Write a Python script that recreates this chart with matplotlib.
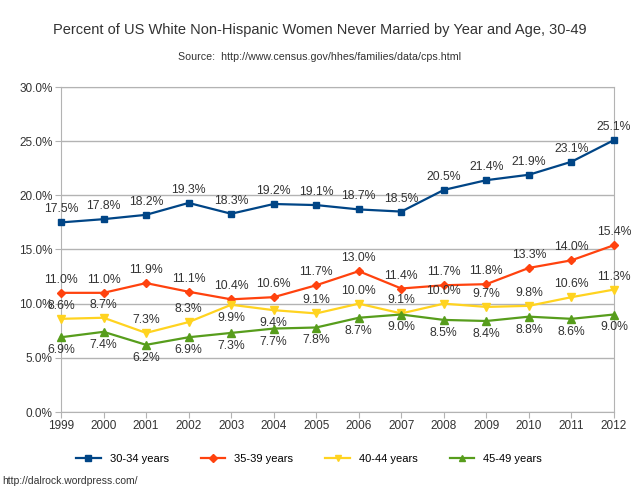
import matplotlib
matplotlib.use("Agg")
import matplotlib.pyplot as plt

years = [1999, 2000, 2001, 2002, 2003, 2004, 2005, 2006, 2007, 2008, 2009, 2010, 2011, 2012]
s30_34 = [17.5, 17.8, 18.2, 19.3, 18.3, 19.2, 19.1, 18.7, 18.5, 20.5, 21.4, 21.9, 23.1, 25.1]
s35_39 = [11.0, 11.0, 11.9, 11.1, 10.4, 10.6, 11.7, 13.0, 11.4, 11.7, 11.8, 13.3, 14.0, 15.4]
s40_44 = [8.6, 8.7, 7.3, 8.3, 9.9, 9.4, 9.1, 10.0, 9.1, 10.0, 9.7, 9.8, 10.6, 11.3]
s45_49 = [6.9, 7.4, 6.2, 6.9, 7.3, 7.7, 7.8, 8.7, 9.0, 8.5, 8.4, 8.8, 8.6, 9.0]
series_names = ["30-34 years", "35-39 years", "40-44 years", "45-49 years"]
yticks = [0, 5, 10, 15, 20, 25, 30]

plt.rcParams['font.family'] = ['Liberation Sans', 'DejaVu Sans']

fig = plt.figure(figsize=(6.4, 4.94), dpi=100)
ax = fig.add_axes([61/640, 82/494, 553/640, 325/494])

styles = [
    dict(color='#004586', marker='s', ms=5),
    dict(color='#ff420e', marker='D', ms=4.5),
    dict(color='#ffd320', marker='v', ms=6),
    dict(color='#579d1c', marker='^', ms=6),
]
data = [s30_34, s35_39, s40_44, s45_49]
# label placement: +1 above, -1 below
place40 = [1, 1, 1, 1, -1, -1, 1, 1, 1, 1, 1, 1, 1, 1]
places = [[1]*14, [1]*14, place40, [-1]*14]

for vals, st, name, pl in zip(data, styles, series_names, places):
    ax.plot(years, vals, color=st['color'], marker=st['marker'], ms=st['ms'],
            lw=1.6, label=name, zorder=3, clip_on=False)
    for x, v, p in zip(years, vals, pl):
        ax.annotate(f"{v:.1f}%", (x, v), xytext=(0, 5*p), textcoords='offset points',
                    ha='center', va='bottom' if p > 0 else 'top', fontsize=8.8,
                    color='#333333', zorder=4)

ax.set_xlim(1999, 2012)
ax.set_ylim(0, 30)
ax.set_yticks(yticks)
ax.set_yticklabels([f"{t:.1f}%" for t in yticks])
ax.set_xticks(years)
ax.set_xticklabels([str(y) for y in years])
ax.tick_params(axis='both', labelsize=8.5, colors='#333333', length=4, color='#b3b3b3',
               direction='out', pad=2)
ax.grid(axis='y', color='#b3b3b3', lw=1)
ax.set_axisbelow(True)
for side in ['left', 'bottom', 'right', 'top']:
    ax.spines[side].set_color('#b3b3b3')

fig.text(0.5, 1 - 30/494, "Percent of US White Non-Hispanic Women Never Married by Year and Age, 30-49",
         ha='center', va='center', fontsize=10.5, color='#333333')
fig.text(0.5, 1 - 57/494, "Source:  http://www.census.gov/hhes/families/data/cps.html",
         ha='center', va='center', fontsize=7.7, color='#333333')
fig.legend(loc='center', bbox_to_anchor=(309/640, 1 - 459/494), ncol=4, frameon=False,
           fontsize=8, handlelength=2.2, handletextpad=0.8, columnspacing=2.9, markerscale=0.8)
fig.text(2/640, 1 - 481/494, "http://dalrock.wordpress.com/", ha='left', va='center',
         fontsize=7.5, color='#333333')

fig.savefig("out.png", dpi=100)
